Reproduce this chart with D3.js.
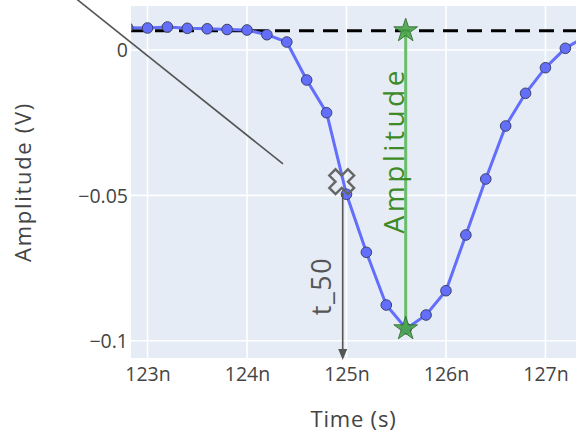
<!DOCTYPE html>
<html>
<head>
<meta charset="utf-8">
<script src="https://cdn.jsdelivr.net/npm/d3@7"></script>
<style>
  html, body { margin: 0; padding: 0; background: #fff; }
  svg { display: block; }
  text { font-family: "Open Sans", sans-serif; }
</style>
</head>
<body>
<svg id="chart" width="576" height="433"></svg>
<script>
// ---------- data ----------
const times = [122.8, 123.0, 123.2, 123.4, 123.6, 123.8, 124.0, 124.2, 124.4, 124.6, 124.8, 125.0,
               125.2, 125.4, 125.6, 125.8, 126.0, 126.2, 126.4, 126.6, 126.8, 127.0, 127.2, 127.4];
const volts = [0.0077, 0.00757, 0.00791, 0.00746, 0.00729, 0.00705, 0.00688, 0.00526, 0.00275, -0.01032,
               -0.02157, -0.04964, -0.06959, -0.08772, -0.09587, -0.09116, -0.0828, -0.06364, -0.04438,
               -0.02614, -0.0149, -0.00608, 0.00058, 0.0047];
const xTicks = [123, 124, 125, 126, 127];
const xTickLabels = ["123n", "124n", "125n", "126n", "127n"];
const yTicks = [0, -0.05, -0.1];
const yTickLabels = ["0", "\u22120.05", "\u22120.1"];
const baseline = 0.00664;
const peakTime = 125.595;
const peakValue = -0.09587;
const t50Time = 124.952;
const t50Value = -0.0453;
const t50ArrowStart = -0.0492;
const guideLine = [[122.2, 0.0199], [124.362, -0.0392]];

// ---------- layout ----------
const svg = d3.select("#chart");
const L = 131, T = 6, R = 576, B = 358;
const x = d3.scaleLinear().domain([122.834, 127.307]).range([L, R]);
const y = d3.scaleLinear().domain([-0.10595, 0.015136]).range([B, T]);

svg.append("defs").append("clipPath").attr("id", "clip")
  .append("rect").attr("x", L).attr("y", T).attr("width", R - L).attr("height", B - T);

svg.append("rect").attr("x", L).attr("y", T).attr("width", R - L).attr("height", B - T)
  .attr("fill", "#e5ecf6");

// grid
const grid = svg.append("g").attr("clip-path", "url(#clip)");
grid.selectAll(".gx").data(xTicks).join("line")
  .attr("x1", d => x(d)).attr("x2", d => x(d)).attr("y1", T).attr("y2", B)
  .attr("stroke", "#fff").attr("stroke-width", 1.6);
grid.selectAll(".gy").data(yTicks).join("line")
  .attr("y1", d => y(d)).attr("y2", d => y(d)).attr("x1", L).attr("x2", R)
  .attr("stroke", "#fff").attr("stroke-width", 1.6);

// axes labels
const xAxis = d3.axisBottom(x).tickValues(xTicks).tickFormat((d, i) => xTickLabels[i]).tickSize(0).tickPadding(0);
const gx = svg.append("g").attr("transform", `translate(0,${B})`).call(xAxis);
gx.select(".domain").remove();
gx.selectAll("text").attr("font-family", "Open Sans").attr("font-size", 19.5).attr("fill", "#444")
  .attr("dy", 0).attr("y", 23);

const yAxis = d3.axisLeft(y).tickValues(yTicks).tickFormat((d, i) => yTickLabels[i]).tickSize(0).tickPadding(0);
const gy = svg.append("g").attr("transform", `translate(${L - 3},0)`).call(yAxis);
gy.select(".domain").remove();
gy.selectAll("text").attr("font-family", "Open Sans").attr("font-size", 19.5).attr("fill", "#444")
  .attr("dy", "0.35em");

svg.append("text").attr("x", (L + R) / 2).attr("y", 427).attr("text-anchor", "middle")
  .attr("font-size", 22).attr("fill", "#444").attr("letter-spacing", 0.8).text("Time (s)");
svg.append("text").attr("transform", `translate(31,${(T + B) / 2}) rotate(-90)`).attr("text-anchor", "middle")
  .attr("font-size", 22).attr("fill", "#444").attr("letter-spacing", 1.7).text("Amplitude (V)");

// plot content
const plot = svg.append("g").attr("clip-path", "url(#clip)");

plot.append("line").attr("x1", L).attr("x2", R).attr("y1", y(baseline)).attr("y2", y(baseline))
  .attr("stroke", "#000").attr("stroke-width", 3).attr("stroke-dasharray", "15,9");

const pts = times.map((t, i) => [t, volts[i]]);
plot.append("path").datum(pts)
  .attr("d", d3.line().x(d => x(d[0])).y(d => y(d[1])))
  .attr("fill", "none").attr("stroke", "#636efa").attr("stroke-width", 3);
plot.selectAll(".dot").data(pts).join("circle")
  .attr("cx", d => x(d[0])).attr("cy", d => y(d[1])).attr("r", 5.3)
  .attr("fill", "#636efa").attr("stroke", "#3b416b").attr("stroke-width", 1);

// amplitude marker
plot.append("line").attr("x1", x(peakTime)).attr("x2", x(peakTime))
  .attr("y1", y(baseline)).attr("y2", y(peakValue))
  .attr("stroke", "#5cb85c").attr("stroke-width", 3).attr("opacity", 0.9);
const star = d3.symbol().type(d3.symbolStar).size(175);
plot.selectAll(".star").data([[peakTime, baseline], [peakTime, peakValue]]).join("path")
  .attr("d", star).attr("transform", d => `translate(${x(d[0])},${y(d[1])})`)
  .attr("fill", "#4aa64a").attr("stroke", "#2d6b2d").attr("stroke-width", 1).attr("opacity", 0.9);

// t50 marker (x-open)
const rx = 6.2;
const ne = `l${rx},${rx}`, se = `l${rx},${-rx}`, sw = `l${-rx},${-rx}`, nw = `l${-rx},${rx}`;
const xPath = `M0,${rx}` + ne + se + sw + se + sw + nw + sw + nw + ne + nw + ne + "Z";
plot.append("path").attr("d", xPath).attr("transform", `translate(${x(t50Time)},${y(t50Value)})`)
  .attr("fill", "none").attr("stroke", "#666").attr("stroke-width", 2.4);

// t50 arrow annotation
const ax = x(t50Time) + 1;
svg.append("line").attr("x1", ax).attr("x2", ax).attr("y1", y(t50ArrowStart)).attr("y2", B - 6)
  .attr("stroke", "#555").attr("stroke-width", 1.6);
svg.append("path").attr("d", `M${ax - 4.5},${B - 9} L${ax + 4.5},${B - 9} L${ax},${B + 2} Z`).attr("fill", "#555");
svg.append("text").attr("transform", `translate(331,${y(-0.0812)}) rotate(-90)`).attr("text-anchor", "middle")
  .attr("font-size", 27).attr("fill", "#555").attr("letter-spacing", 1.5).text("t_50");

// amplitude label
svg.append("text").attr("transform", `translate(404,${y(-0.0345)}) rotate(-90)`).attr("text-anchor", "middle")
  .attr("font-size", 28).attr("fill", "#3d8a26").attr("letter-spacing", 3.5).text("Amplitude");

// guide line
svg.append("line").attr("x1", x(guideLine[0][0])).attr("y1", y(guideLine[0][1]))
  .attr("x2", x(guideLine[1][0])).attr("y2", y(guideLine[1][1]))
  .attr("stroke", "#555").attr("stroke-width", 1.6);
</script>
</body>
</html>
